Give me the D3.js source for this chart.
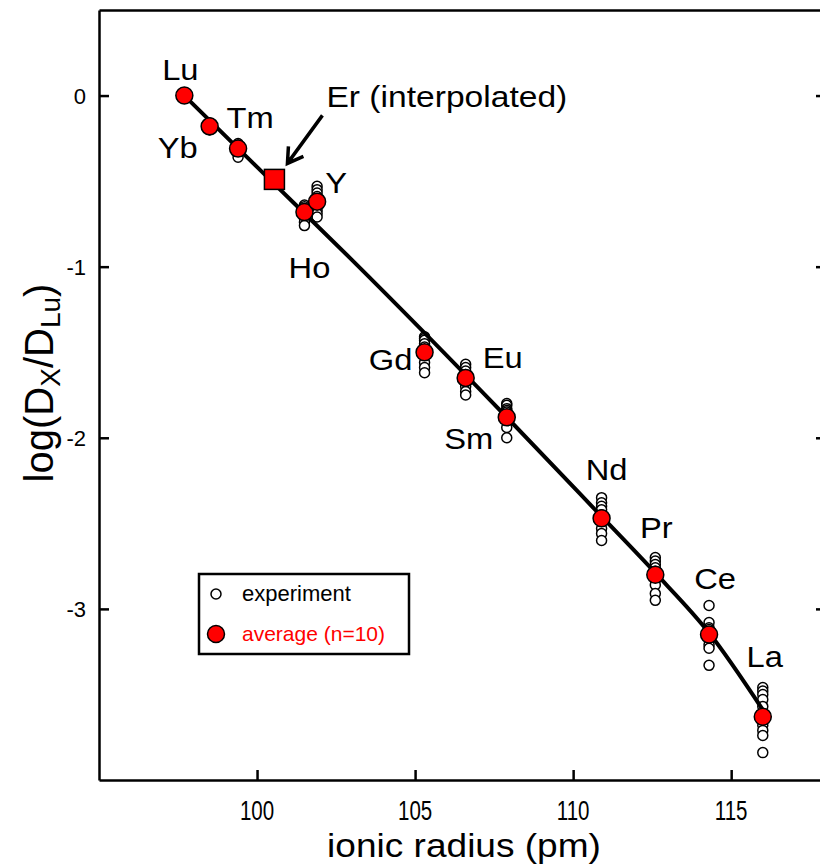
<!DOCTYPE html>
<html lang="en">
<head>
<meta charset="utf-8">
<title>Lattice strain</title>
<script src="https://d3js.org/d3.v7.min.js"></script>
<style>
    body { margin: 0; background: #fff; }
    svg { font-family: Arial, "Liberation Sans", sans-serif; }
    .axis path, .axis line { stroke: #000; stroke-width: 2.5px; }
    .axis text { fill: #000; }
    .fit { fill: none; stroke: #000; stroke-width: 4px; }
    .expt { fill: #fff; stroke: #000; stroke-width: 1.5px; }
    .avg { fill: #ff0000; stroke: #000; stroke-width: 1.5px; }
</style>
</head>
<body>
<script>
// data
const elements = ["Lu", "Yb", "Tm", "Ho", "Y", "Gd", "Eu", "Sm", "Nd", "Pr", "Ce", "La"];
const radius = [97.7, 98.5, 99.4, 101.5, 101.9, 105.3, 106.6, 107.9, 110.9, 112.6, 114.3, 116.0];
const average = [0, -0.18, -0.31, -0.68, -0.62, -1.50, -1.65, -1.88, -2.47, -2.80, -3.15, -3.63];
const experiment = [
    [0, 0, 0, 0, 0, 0, 0, 0, 0, 0],
    [-0.16, -0.17, -0.17, -0.17, -0.18, -0.18, -0.18, -0.19, -0.20, -0.20],
    [-0.28, -0.29, -0.29, -0.30, -0.31, -0.31, -0.32, -0.33, -0.34, -0.36],
    [-0.64, -0.65, -0.66, -0.67, -0.67, -0.69, -0.70, -0.72, -0.74, -0.76],
    [-0.53, -0.55, -0.57, -0.59, -0.61, -0.63, -0.65, -0.67, -0.69, -0.71],
    [-1.41, -1.42, -1.43, -1.45, -1.47, -1.49, -1.50, -1.56, -1.59, -1.62],
    [-1.57, -1.59, -1.61, -1.63, -1.65, -1.66, -1.68, -1.70, -1.73, -1.75],
    [-1.80, -1.81, -1.83, -1.84, -1.85, -1.87, -1.88, -1.90, -1.94, -2.00],
    [-2.35, -2.38, -2.40, -2.42, -2.45, -2.47, -2.49, -2.53, -2.56, -2.60],
    [-2.70, -2.72, -2.74, -2.76, -2.78, -2.80, -2.83, -2.86, -2.91, -2.95],
    [-2.98, -3.08, -3.11, -3.12, -3.14, -3.16, -3.18, -3.21, -3.23, -3.33],
    [-3.46, -3.48, -3.50, -3.53, -3.57, -3.63, -3.68, -3.71, -3.74, -3.84]
];
const erRadius = 100.55;
const erLog = -0.49;
const fitRadius = [97.7, 100.4, 103.0, 107.9, 110.9, 112.6, 114.3, 116.0];
const fitLog = [0, -0.49, -0.96, -1.88, -2.46, -2.79, -3.14, -3.59];
const xTicks = [100, 105, 110, 115];
const yTicks = [0, -1, -2, -3];

// label placement (pixels from the average point)
const labelOffset = [[-4, -16], [-32, 32], [12, -21], [5, 66], [19, -9], [-34, 18],
                     [37, -10], [-38, 32], [5, -38], [1, -37], [6, -46], [2, -50]];

const w = 820, h = 865;
const plotL = 99, plotR = 826, plotT = 10, plotB = 780;

const xScale = d3.scaleLinear().domain([95, 118]).range([plotL, plotR]);
const yScale = d3.scaleLinear().domain([-4, 0.5]).range([plotB, plotT]);

const svg = d3.select("body").append("svg")
    .attr("width", w)
    .attr("height", h);

// frame: axes with inward ticks
svg.append("g").attr("class", "axis")
    .attr("transform", "translate(0," + plotB + ")")
    .call(d3.axisTop(xScale).tickValues(xTicks).tickSize(10).tickFormat("").tickSizeOuter(0));
svg.append("g").attr("class", "axis")
    .attr("transform", "translate(0," + plotT + ")")
    .call(d3.axisBottom(xScale).tickValues([]).tickSizeOuter(0));
svg.append("g").attr("class", "axis")
    .attr("transform", "translate(" + plotL + ",0)")
    .call(d3.axisRight(yScale).tickValues(yTicks).tickSize(10).tickFormat("").tickSizeOuter(0));
svg.append("g").attr("class", "axis")
    .attr("transform", "translate(" + plotR + ",0)")
    .call(d3.axisLeft(yScale).tickValues(yTicks).tickSize(10).tickFormat("").tickSizeOuter(0));

// tick labels
svg.append("g").selectAll("text")
    .data(xTicks).join("text")
    .attr("transform", d => "translate(" + xScale(d) + ",820) scale(0.76,1)")
    .attr("text-anchor", "middle")
    .attr("font-size", 27)
    .text(d => d);
svg.append("g").selectAll("text")
    .data(yTicks).join("text")
    .attr("x", 86)
    .attr("y", d => yScale(d) + 8)
    .attr("text-anchor", "end")
    .attr("font-size", 22)
    .text(d => d);

// axis titles
svg.append("text")
    .attr("transform", "translate(464,857) scale(1.09,1)")
    .attr("text-anchor", "middle")
    .attr("font-size", 34)
    .text("ionic radius (pm)");

const yt = svg.append("text")
    .attr("transform", "translate(53,383) rotate(-90)")
    .attr("text-anchor", "middle")
    .attr("font-size", 40);
yt.append("tspan").text("log(D");
yt.append("tspan").attr("font-size", 28).attr("dy", 7).text("X");
yt.append("tspan").attr("dy", -7).text("/D");
yt.append("tspan").attr("font-size", 28).attr("dy", 7).text("Lu");
yt.append("tspan").attr("dy", -7).text(")");

// experiment points
const exptPts = [];
experiment.forEach((vals, i) => vals.forEach(v => exptPts.push({r: radius[i], v: v})));
svg.append("g").selectAll("circle")
    .data(exptPts).join("circle")
    .attr("class", "expt")
    .attr("cx", d => xScale(d.r))
    .attr("cy", d => yScale(d.v))
    .attr("r", 5);

// fitted trend
const line = d3.line()
    .x(d => xScale(d[0]))
    .y(d => yScale(d[1]))
    .curve(d3.curveMonotoneX);
svg.append("path")
    .datum(fitRadius.map((r, i) => [r, fitLog[i]]))
    .attr("class", "fit")
    .attr("d", line);

// averages
svg.append("g").selectAll("circle")
    .data(elements).join("circle")
    .attr("class", "avg")
    .attr("cx", (d, i) => xScale(radius[i]))
    .attr("cy", (d, i) => yScale(average[i]))
    .attr("r", 8.5);

// interpolated Er
svg.append("rect")
    .attr("class", "avg")
    .attr("x", xScale(erRadius) - 10)
    .attr("y", yScale(erLog) - 10)
    .attr("width", 20).attr("height", 20)
    .attr("stroke-width", 2);

// element labels
svg.append("g").selectAll("text")
    .data(elements).join("text")
    .attr("transform", (d, i) => "translate(" + (xScale(radius[i]) + labelOffset[i][0]) + "," +
                                 (yScale(average[i]) + labelOffset[i][1]) + ") scale(1.09,1)")
    .attr("text-anchor", "middle")
    .attr("font-size", 30)
    .text(d => d);

// Er annotation with arrow
svg.append("text")
    .attr("transform", "translate(" + (xScale(erRadius) + 52) + "," + (yScale(erLog) - 72) + ") scale(1.12,1)")
    .attr("font-size", 30)
    .text("Er (interpolated)");
const ax0 = xScale(erRadius) + 48, ay0 = yScale(erLog) - 64;
const ax1 = xScale(erRadius) + 13, ay1 = yScale(erLog) - 16;
svg.append("path")
    .attr("d", "M" + ax0 + "," + ay0 + "L" + ax1 + "," + ay1 +
               "M" + (ax1 + 1) + "," + (ay1 - 17) + "L" + ax1 + "," + ay1 + "L" + (ax1 + 16) + "," + (ay1 - 7))
    .attr("fill", "none")
    .attr("stroke", "#000")
    .attr("stroke-width", 3.5);

// legend
const lg = svg.append("g").attr("transform", "translate(199,574)");
lg.append("rect")
    .attr("width", 210).attr("height", 80)
    .attr("fill", "#fff").attr("stroke", "#000").attr("stroke-width", 2.5);
lg.append("circle").attr("class", "expt").attr("cx", 17).attr("cy", 20).attr("r", 5);
lg.append("text").attr("x", 43).attr("y", 27).attr("font-size", 22).text("experiment");
lg.append("circle").attr("class", "avg").attr("cx", 17).attr("cy", 60).attr("r", 8.5);
lg.append("text").attr("x", 43).attr("y", 67).attr("font-size", 21).attr("fill", "#ff0000").text("average (n=10)");
</script>
</body>
</html>
